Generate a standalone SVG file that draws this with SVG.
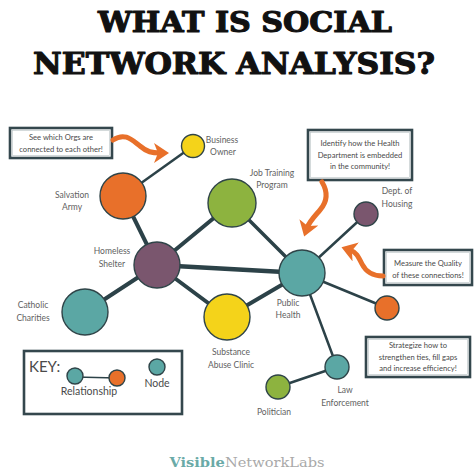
<svg xmlns="http://www.w3.org/2000/svg" width="476" height="471" viewBox="0 0 476 471">
<style>
.title{font-family:"DejaVu Serif",serif;font-weight:bold;fill:#111;stroke:#111;stroke-width:1.1;stroke-linejoin:round;}
.lbl{font-family:"Lato","Open Sans",sans-serif;font-size:8.5px;fill:#616161;text-anchor:middle;}
.call{font-family:"Lato","Open Sans",sans-serif;font-size:7.6px;fill:#4a4a4a;text-anchor:middle;}
.box{fill:#fff;stroke:#34474d;stroke-width:2.6;}
.inbox{fill:none;stroke:#b8c2c4;stroke-width:0.6;}
.edge{stroke:#2c4248;stroke-linecap:round;fill:none;}
.node{stroke:#2f4448;stroke-width:1.4;}
.arrow{fill:none;stroke:#e8702a;stroke-width:5;stroke-linecap:round;}
.key{font-family:"Lato","Open Sans",sans-serif;fill:#4a4a4a;}
</style>
<defs>
<marker id="ah" markerWidth="4" markerHeight="4" refX="1.2" refY="2" orient="auto" markerUnits="strokeWidth">
<path d="M0,0 L3,2 L0,4 L0.8,2 Z" fill="#e8702a"/>
</marker>
</defs>
<rect width="476" height="471" fill="#fff"/>
<text class="title" x="245" y="32" font-size="27" text-anchor="middle" textLength="294" lengthAdjust="spacingAndGlyphs">WHAT IS SOCIAL</text>
<text class="title" x="234" y="74" font-size="29" text-anchor="middle" textLength="402" lengthAdjust="spacingAndGlyphs">NETWORK ANALYSIS?</text>

<g id="connectors">
<line class="edge" x1="193" y1="146" x2="123" y2="196" stroke-width="2.5"/>
<line class="edge" x1="123" y1="196" x2="157" y2="265" stroke-width="4"/>
<line class="edge" x1="157" y1="265" x2="232" y2="203" stroke-width="4"/>
<line class="edge" x1="157" y1="265" x2="85" y2="312" stroke-width="4"/>
<line class="edge" x1="157" y1="265" x2="227" y2="317" stroke-width="4"/>
<line class="edge" x1="157" y1="265" x2="302" y2="273" stroke-width="4.5"/>
<line class="edge" x1="232" y1="203" x2="302" y2="273" stroke-width="3.5"/>
<line class="edge" x1="227" y1="317" x2="302" y2="273" stroke-width="4"/>
<line class="edge" x1="302" y1="273" x2="366" y2="214" stroke-width="2.5"/>
<line class="edge" x1="302" y1="273" x2="387" y2="308" stroke-width="2.5"/>
<line class="edge" x1="302" y1="273" x2="337" y2="367" stroke-width="2.5"/>
<line class="edge" x1="337" y1="367" x2="278" y2="387" stroke-width="2.5"/>
</g>

<g id="business-owner"><circle class="node" cx="193" cy="146" r="11.5" fill="#f4d31a"/><text class="lbl" x="222" y="143">Business</text><text class="lbl" x="223" y="155">Owner</text></g>
<g id="salvation-army"><circle class="node" cx="123" cy="196" r="23" fill="#e8702a"/><text class="lbl" x="72" y="198">Salvation</text><text class="lbl" x="72" y="210">Army</text></g>
<g id="job-training"><circle class="node" cx="232" cy="203" r="24" fill="#8db33f"/><text class="lbl" x="272" y="176">Job Training</text><text class="lbl" x="272" y="188">Program</text></g>
<g id="homeless-shelter"><circle class="node" cx="157" cy="265" r="23" fill="#7a566e"/><text class="lbl" x="112" y="254">Homeless</text><text class="lbl" x="112" y="267">Shelter</text></g>
<g id="catholic-charities"><circle class="node" cx="85" cy="312" r="23" fill="#5ba7a4"/><text class="lbl" x="33" y="308">Catholic</text><text class="lbl" x="33" y="321">Charities</text></g>
<g id="substance-abuse"><circle class="node" cx="227" cy="317" r="23" fill="#f4d31a"/><text class="lbl" x="231" y="355">Substance</text><text class="lbl" x="231" y="368">Abuse Clinic</text></g>
<g id="public-health"><circle class="node" cx="302" cy="273" r="23" fill="#5ba7a4"/><text class="lbl" x="288" y="306">Public</text><text class="lbl" x="288" y="318">Health</text></g>
<g id="dept-housing"><circle class="node" cx="366" cy="214" r="12" fill="#7a566e"/><text class="lbl" x="397" y="194">Dept. of</text><text class="lbl" x="397" y="207">Housing</text></g>
<g id="orange-node"><circle class="node" cx="387" cy="308" r="12" fill="#e8702a"/></g>
<g id="law-enforcement"><circle class="node" cx="337" cy="367" r="12" fill="#5ba7a4"/><text class="lbl" x="345" y="393">Law</text><text class="lbl" x="345" y="406">Enforcement</text></g>
<g id="politician"><circle class="node" cx="278" cy="387" r="12" fill="#8db33f"/><text class="lbl" x="274" y="415">Politician</text></g>

<g id="callout-orgs">
<rect class="box" x="10" y="128" width="102" height="30"/><rect class="inbox" x="12.5" y="130.5" width="97" height="25"/>
<text class="call" x="61" y="140">See which Orgs are</text><text class="call" x="61" y="152">connected to each other!</text>
<path class="arrow" d="M113,140 C125,132 132,140 140,146 C147,152 152,153 160,153" marker-end="url(#ah)"/>
</g>
<g id="callout-health">
<rect class="box" x="308" y="130" width="104" height="50"/><rect class="inbox" x="310.5" y="132.5" width="99" height="45"/>
<text class="call" x="360" y="146">Identify how the Health</text><text class="call" x="360" y="158">Department is embedded</text><text class="call" x="360" y="169">in the community!</text>
<path class="arrow" d="M322,182 C328,192 327,202 320,210 C314,217 309,222 307,228" marker-end="url(#ah)"/>
</g>
<g id="callout-quality">
<rect class="box" x="384" y="250" width="88" height="35"/><rect class="inbox" x="386.5" y="252.5" width="83" height="30"/>
<text class="call" x="428" y="266">Measure the Quality</text><text class="call" x="428" y="278">of these connections!</text>
<path class="arrow" d="M383,276 C372,276 366,272 362,264 C358,256 356,252 350,250" marker-end="url(#ah)"/>
</g>
<g id="callout-strategize">
<rect class="box" x="366" y="337" width="104" height="40"/><rect class="inbox" x="368.5" y="339.5" width="99" height="35"/>
<text class="call" x="418" y="348">Strategize how to</text><text class="call" x="418" y="360">strengthen ties, fill gaps</text><text class="call" x="418" y="371">and increase efficiency!</text>
</g>

<g id="key">
<rect x="24" y="351" width="158" height="63" fill="#fff" stroke="#34474d" stroke-width="2.6"/>
<text class="key" x="29" y="372" font-size="15">KEY:</text>
<line x1="75" y1="377" x2="117" y2="378" stroke="#2c4248" stroke-width="1.6"/>
<circle class="node" cx="75" cy="376" r="8" fill="#5ba7a4"/>
<circle class="node" cx="117" cy="378" r="8" fill="#e8702a"/>
<text class="key" x="89" y="395" font-size="10.5" text-anchor="middle">Relationship</text>
<circle class="node" cx="157" cy="367" r="8" fill="#5ba7a4"/>
<text class="key" x="157" y="387" font-size="10.5" text-anchor="middle">Node</text>
</g>

<g id="logo">
<text x="247" y="467" font-family="DejaVu Serif,serif" font-size="13" text-anchor="middle" textLength="155" lengthAdjust="spacingAndGlyphs"><tspan fill="#6aaaa7" font-weight="bold">Visible</tspan><tspan fill="#a9a9a9">NetworkLabs</tspan></text>
</g>
</svg>
